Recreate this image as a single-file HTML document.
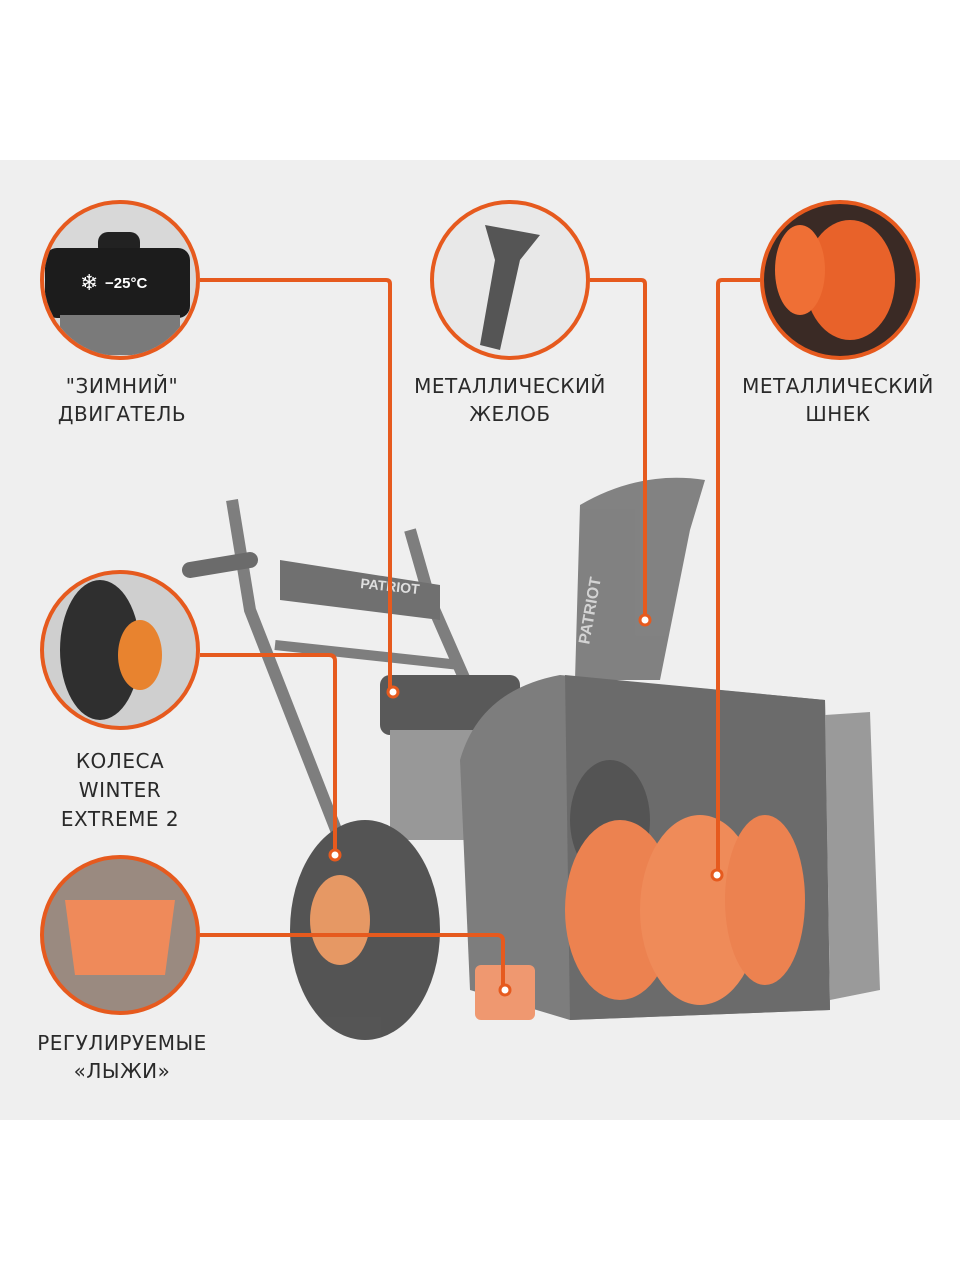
<!DOCTYPE html>
<html><head><meta charset="utf-8"><style>
body{margin:0;width:960px;height:1280px;background:#fff;overflow:hidden;font-family:"Liberation Sans","DejaVu Sans",sans-serif}
svg{position:absolute;left:0;top:0}
.t{font-family:"DejaVu Sans","Liberation Sans",sans-serif;font-size:20px;fill:#2a2a2a;letter-spacing:0.5px;text-anchor:middle}
</style></head><body>
<svg width="960" height="1280" viewBox="0 0 960 1280">
<rect x="0" y="160" width="960" height="960" fill="#efefef"/>
<g opacity="0.85">
<path d="M232 500 L250 610 L340 840" stroke="#6b6b6b" stroke-width="12" fill="none"/>
<path d="M410 530 L430 600 L465 680" stroke="#6b6b6b" stroke-width="12" fill="none"/>
<path d="M190 570 L250 560" stroke="#555" stroke-width="16" stroke-linecap="round"/>
<path d="M280 560 L440 585 L440 620 L280 600 Z" fill="#5a5a5a"/>
<text x="360" y="588" font-size="14" font-weight="bold" fill="#ddd" font-family="Liberation Sans" transform="rotate(6 360 588)">PATRIOT</text>
<path d="M275 645 L460 665" stroke="#6b6b6b" stroke-width="10"/>
<rect x="380" y="675" width="140" height="60" rx="10" fill="#3f3f3f"/>
<rect x="390" y="730" width="90" height="110" fill="#8a8a8a"/>
<ellipse cx="365" cy="930" rx="75" ry="110" fill="#3a3a3a"/>
<ellipse cx="340" cy="920" rx="30" ry="45" fill="#e5894c"/>
<path d="M580 505 Q640 470 705 480 L690 530 L660 680 L575 680 Z" fill="#6e6e6e"/>
<text x="585" y="640" font-size="16" font-weight="bold" fill="#cfcfcf" transform="rotate(-80 590 640)">PATRIOT</text>
<path d="M460 760 Q480 690 560 675 L825 700 L830 1010 L570 1020 L470 990 Z" fill="#6a6a6a"/>
<path d="M565 675 L825 700 L830 1010 L570 1020 Z" fill="#555"/>
<path d="M825 715 L870 712 L880 990 L830 1000 Z" fill="#8c8c8c"/>
<ellipse cx="610" cy="820" rx="40" ry="60" fill="#3a3a3a"/>
<ellipse cx="620" cy="910" rx="55" ry="90" fill="#ec6f35"/>
<ellipse cx="700" cy="910" rx="60" ry="95" fill="#ef7a40"/>
<ellipse cx="765" cy="900" rx="40" ry="85" fill="#ec6f35"/>
<rect x="475" y="965" width="60" height="55" rx="6" fill="#ef8a5a"/>
</g>
<g stroke="#e65a1e" stroke-width="4" fill="none">
<path d="M200 280 H386 Q390 280 390 284 V692"/>
<path d="M590 280 H641 Q645 280 645 284 V620"/>
<path d="M760 280 H722 Q718 280 718 284 V875"/>
<path d="M200 655 H329 Q335 655 335 661 V855"/>
<path d="M200 935 H497 Q503 935 503 941 V990"/>
</g>
<g fill="#fff" stroke="#e65a1e" stroke-width="3">
<circle cx="393" cy="692" r="5"/><circle cx="645" cy="620" r="5"/><circle cx="717" cy="875" r="5"/><circle cx="335" cy="855" r="5"/><circle cx="505" cy="990" r="5"/>
</g>
<defs><clipPath id="c1"><circle cx="120" cy="280" r="76"/></clipPath></defs>
<g stroke="#e65a1e" stroke-width="4">
<circle cx="120" cy="280" r="78" fill="#d8d8d8"/>
<circle cx="510" cy="280" r="78" fill="#e8e8e8"/>
<circle cx="840" cy="280" r="78" fill="#3a2a25"/>
<circle cx="120" cy="650" r="78" fill="#cfcfcf"/>
<circle cx="120" cy="935" r="78" fill="#9a8a80"/>
</g>
<g clip-path="url(#c1)">
<rect x="98" y="232" width="42" height="25" rx="10" fill="#222"/>
<rect x="45" y="248" width="145" height="70" rx="12" fill="#1c1c1c"/>
<rect x="60" y="315" width="120" height="40" fill="#7a7a7a"/>
</g>
<text x="80" y="290" font-size="22" fill="#fff">❄</text>
<text x="105" y="288" font-size="15" font-weight="bold" fill="#fff" font-family="Liberation Sans">−25°C</text>
<path d="M485 225 L540 235 L520 260 L500 350 L480 345 L495 260 Z" fill="#555"/>
<ellipse cx="850" cy="280" rx="45" ry="60" fill="#e8622a"/>
<ellipse cx="800" cy="270" rx="25" ry="45" fill="#ef6f35"/>
<ellipse cx="100" cy="650" rx="40" ry="70" fill="#2f2f2f"/>
<ellipse cx="140" cy="655" rx="22" ry="35" fill="#e8832f"/>
<path d="M65 900 L175 900 L165 975 L75 975 Z" fill="#ef8a5a"/>
<text class="t" x="122" y="393">"ЗИМНИЙ"</text>
<text class="t" x="122" y="421">ДВИГАТЕЛЬ</text>
<text class="t" x="510" y="393">МЕТАЛЛИЧЕСКИЙ</text>
<text class="t" x="510" y="421">ЖЕЛОБ</text>
<text class="t" x="838" y="393">МЕТАЛЛИЧЕСКИЙ</text>
<text class="t" x="838" y="421">ШНЕК</text>
<text class="t" x="120" y="768">КОЛЕСА</text>
<text class="t" x="120" y="797">WINTER</text>
<text class="t" x="120" y="826">EXTREME 2</text>
<text class="t" x="122" y="1050">РЕГУЛИРУЕМЫЕ</text>
<text class="t" x="122" y="1078">«ЛЫЖИ»</text>
</svg>
</body></html>
